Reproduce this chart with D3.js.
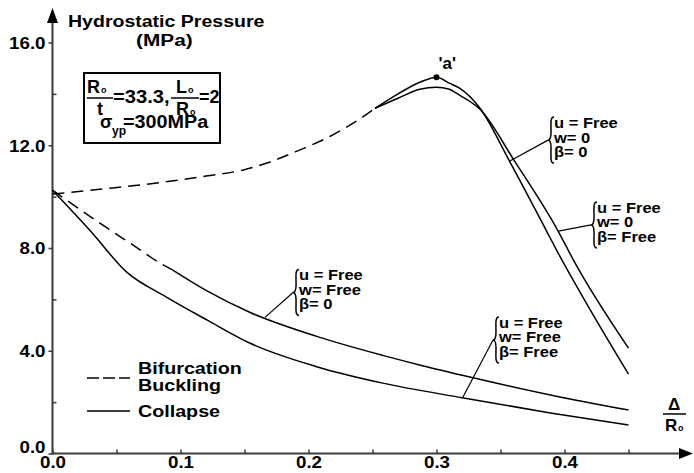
<!DOCTYPE html>
<html>
<head>
<meta charset="utf-8">
<script src="https://cdn.jsdelivr.net/npm/d3@7"></script>
<style>
  body { margin: 0; background: #fff; }
  text { font-family: "Liberation Sans", Arial, sans-serif; font-weight: bold; fill: #000; }
</style>
</head>
<body>
<div id="canvas"></div>
<script>
// values (x = Δ/Ro, y = pressure in MPa)
const bifUpperX = [0, 0.04, 0.08, 0.12, 0.15, 0.17, 0.19, 0.217, 0.243, 0.252];
const bifUpperY = [10.1, 10.3, 10.52, 10.8, 11.05, 11.35, 11.75, 12.35, 13.12, 13.44];

const peakAX = [0.252, 0.27, 0.287, 0.30, 0.31, 0.318, 0.334, 0.357, 0.386, 0.394, 0.42, 0.45];
const peakAY = [13.44, 14.0, 14.45, 14.65, 14.42, 14.22, 13.44, 11.38, 8.66, 7.9, 5.6, 3.09];

const peakBX = [0.252, 0.27, 0.287, 0.30, 0.31, 0.318, 0.334, 0.361, 0.395, 0.407, 0.45];
const peakBY = [13.44, 13.83, 14.18, 14.26, 14.18, 13.95, 13.4, 11.38, 8.66, 7.53, 4.1];

const bifLowerX = [0, 0.037, 0.063, 0.084, 0.094];
const bifLowerY = [10.25, 8.97, 8.11, 7.41, 7.14];

const midX = [0.094, 0.12, 0.154, 0.207, 0.258, 0.289, 0.326, 0.389, 0.45];
const midY = [7.14, 6.35, 5.5, 4.55, 3.82, 3.42, 2.98, 2.28, 1.69];

const lowX = [0, 0.029, 0.058, 0.089, 0.121, 0.154, 0.207, 0.258, 0.32, 0.389, 0.45];
const lowY = [10.25, 8.7, 7.06, 6.09, 5.19, 4.30, 3.37, 2.74, 2.17, 1.58, 1.11];

const peakPoint = [0.30, 14.65];

const yMajor = [0, 4, 8, 12, 16];
const yMinor = [2, 6, 10, 14];
const xMajor = [0, 0.1, 0.2, 0.3, 0.4];
const xMinor = [0.05, 0.15, 0.25, 0.35, 0.45];

const label1 = ["u = Free", "w= 0", "β= 0"];
const label2 = ["u = Free", "w= 0", "β= Free"];
const label3 = ["u = Free", "w= Free", "β= 0"];
const label4 = ["u = Free", "w= Free", "β= Free"];

const width = 694;
const height = 473;

const svg = d3.select("#canvas").append("svg")
    .attr("width", width)
    .attr("height", height);

const x = d3.scaleLinear().domain([0, 0.45]).range([52.5, 628.5]);
const y = d3.scaleLinear().domain([0, 16]).range([453.5, 42.5]);

function stretch(sel, k) {
    sel.each(function () {
        const L = this.getComputedTextLength();
        d3.select(this).attr("textLength", L * k).attr("lengthAdjust", "spacingAndGlyphs");
    });
}

const axisColor = "#3a3a3a";

// axes
const ya = svg.append("g")
    .attr("transform", `translate(${x(0)},0)`)
    .call(d3.axisLeft(y).tickValues(yMajor).tickSize(4).tickPadding(3).tickFormat(d3.format(".1f")));
ya.select(".domain").remove();
ya.selectAll("line").attr("stroke", axisColor).attr("stroke-width", 1.5);
ya.selectAll("text").style("font-size", "17px").style("font-family", null)
    .attr("dy", d => d === 0 ? "-0.05em" : "0.34em");
stretch(ya.selectAll("text"), 1.1);

const ym = svg.append("g")
    .attr("transform", `translate(${x(0)},0)`)
    .call(d3.axisRight(y).tickValues(yMinor).tickSize(4).tickFormat(""));
ym.select(".domain").remove();
ym.selectAll("line").attr("stroke", axisColor).attr("stroke-width", 1.5);

const xa = svg.append("g")
    .attr("transform", `translate(0,${y(0)})`)
    .call(d3.axisBottom(x).tickValues(xMajor).tickSizeInner(-4).tickSizeOuter(0).tickPadding(2).tickFormat(d3.format(".1f")));
xa.select(".domain").remove();
xa.selectAll("line").attr("stroke", axisColor).attr("stroke-width", 1.5);
xa.selectAll("text").style("font-size", "17px").style("font-family", null);
stretch(xa.selectAll("text"), 1.1);

const xm = svg.append("g")
    .attr("transform", `translate(0,${y(0)})`)
    .call(d3.axisTop(x).tickValues(xMinor).tickSize(4).tickFormat(""));
xm.select(".domain").remove();
xm.selectAll("line").attr("stroke", axisColor).attr("stroke-width", 1.5);

// axis lines with arrow heads
svg.append("line").attr("x1", x(0)).attr("x2", x(0)).attr("y1", y(0) + 1).attr("y2", 20)
    .attr("stroke", axisColor).attr("stroke-width", 2);
svg.append("path").attr("d", `M${x(0)},8 L${x(0) - 5.5},23 L${x(0) + 5.5},23 Z`).attr("fill", "#000");
svg.append("line").attr("x1", x(0) - 1).attr("x2", 682).attr("y1", y(0)).attr("y2", y(0))
    .attr("stroke", axisColor).attr("stroke-width", 2);
svg.append("path").attr("d", `M693,${y(0)} L679,${y(0) - 5.5} L679,${y(0) + 5.5} Z`).attr("fill", "#000");

// curves
const line = d3.line().x(d => x(d[0])).y(d => y(d[1])).curve(d3.curveMonotoneX);
const zip = (a, b) => a.map((v, i) => [v, b[i]]);

const g = svg.append("g").attr("fill", "none").attr("stroke", "#000").attr("stroke-width", 1.5);
g.append("path").attr("d", line(zip(bifUpperX, bifUpperY))).attr("stroke-dasharray", "12,7");
g.append("path").attr("d", line(zip(bifLowerX, bifLowerY))).attr("stroke-dasharray", "12,7");
g.append("path").attr("d", line(zip(peakAX, peakAY)));
g.append("path").attr("d", line(zip(peakBX, peakBY)));
g.append("path").attr("d", line(zip(midX, midY)));
g.append("path").attr("d", line(zip(lowX, lowY)));

svg.append("circle").attr("cx", x(peakPoint[0])).attr("cy", y(peakPoint[1])).attr("r", 3).attr("fill", "#000");
svg.append("text").attr("x", x(peakPoint[0]) + 2).attr("y", y(peakPoint[1]) - 8)
    .style("font-size", "17px").text("'a'");

// title
const t1 = svg.append("text").attr("x", 68).attr("y", 27).style("font-size", "16px").text("Hydrostatic Pressure");
stretch(t1, 1.22);
const t2 = svg.append("text").attr("x", 136).attr("y", 46).style("font-size", "16px").text("(MPa)");
stretch(t2, 1.3);

// parameter box
svg.append("rect").attr("x", 84).attr("y", 73).attr("width", 136).attr("height", 70)
    .attr("fill", "none").attr("stroke", "#000").attr("stroke-width", 2);
function txt(xx, yy, s, size, anchor) {
    return svg.append("text").attr("x", xx).attr("y", yy).attr("text-anchor", anchor || "start")
        .style("font-size", size + "px").text(s);
}
function bar(x1, x2, yy) {
    svg.append("line").attr("x1", x1).attr("x2", x2).attr("y1", yy).attr("y2", yy)
        .attr("stroke", "#000").attr("stroke-width", 1.5);
}
txt(87, 93, "R", 18); txt(101, 93, "o", 9);
bar(87, 113, 98);
txt(100, 115, "t", 18, "middle");
stretch(txt(113, 103, "=33.3,", 18), 1.12);
txt(176, 93, "L", 18); txt(188, 93, "o", 9);
bar(171, 199, 98);
txt(176, 115, "R", 18); txt(190, 115, "o", 9);
stretch(txt(199, 103, "=2", 18), 1.0);
txt(100, 128, "σ", 18);
txt(112, 135, "yp", 12);
stretch(txt(123, 128, "=300MPa", 18), 1.1);

// boundary condition labels with braces
function brace(xx, y0, y1) {
    const m = (y0 + y1) / 2;
    return `M${xx + 4},${y0} C${xx},${y0} ${xx + 1},${y0 + 6} ${xx + 1},${m - 8} C${xx + 1},${m - 2} ${xx},${m} ${xx - 2},${m}` +
        ` C${xx},${m} ${xx + 1},${m + 2} ${xx + 1},${m + 8} C${xx + 1},${y1 - 6} ${xx},${y1} ${xx + 4},${y1}`;
}
function bcLabel(lines, ax, ay, tx, ty) {
    // ax, ay: data point on curve; tx, ty: data point of brace middle
    const bx = x(tx), by = y(ty);
    svg.append("line").attr("x1", bx - 2).attr("y1", by).attr("x2", x(ax)).attr("y2", y(ay))
        .attr("stroke", "#000").attr("stroke-width", 1.2);
    svg.append("path").attr("d", brace(bx, by - 23, by + 23))
        .attr("fill", "none").attr("stroke", "#000").attr("stroke-width", 1.5);
    lines.forEach((s, i) => {
        const t = svg.append("text").attr("x", bx + 4).attr("y", by - 12 + i * 14.5)
            .style("font-size", "15px").text(s);
        stretch(t, 1.1);
    });
}
bcLabel(label1, 0.357, 11.38, 0.3887, 12.2);
bcLabel(label2, 0.3953, 8.66, 0.4223, 8.9);
bcLabel(label3, 0.166, 5.3, 0.1895, 6.27);
bcLabel(label4, 0.3207, 2.2, 0.3457, 4.42);

// legend
svg.append("line").attr("x1", 87).attr("x2", 130).attr("y1", 378).attr("y2", 378)
    .attr("stroke", "#000").attr("stroke-width", 1.5).attr("stroke-dasharray", "12,4");
svg.append("line").attr("x1", 87).attr("x2", 130).attr("y1", 411).attr("y2", 411)
    .attr("stroke", "#000").attr("stroke-width", 1.5);
stretch(txt(138, 374, "Bifurcation", 16), 1.23);
stretch(txt(138, 391, "Buckling", 16), 1.23);
stretch(txt(138, 417, "Collapse", 16), 1.23);

// x axis label Δ/Ro
txt(674, 410, "Δ", 17, "middle");
bar(663, 686, 414);
txt(665, 431, "R", 17); txt(678, 431, "o", 9);
</script>
</body>
</html>
